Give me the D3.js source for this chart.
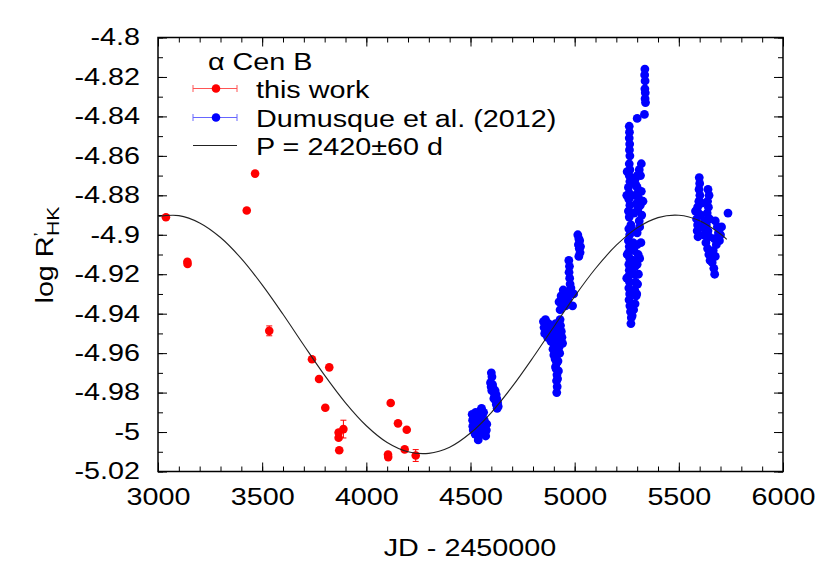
<!DOCTYPE html>
<html><head><meta charset="utf-8">
<script src="https://cdn.jsdelivr.net/npm/d3@7"></script>
<style>
body{margin:0;background:#fff}
svg{display:block}
text{font-family:"Liberation Sans",Arial,Helvetica,sans-serif;fill:#000}
</style>
</head><body>
<svg id="chart" width="830" height="567"></svg>
<script>
// ---------- data ----------
const xTicks = [3000,3500,4000,4500,5000,5500,6000];
const yTicks = [-4.8,-4.82,-4.84,-4.86,-4.88,-4.9,-4.92,-4.94,-4.96,-4.98,-5,-5.02];
const yTickLabels = ["-4.8","-4.82","-4.84","-4.86","-4.88","-4.9","-4.92","-4.94","-4.96","-4.98","-5","-5.02"];
const seriesNames = ["this work","Dumusque et al. (2012)","P = 2420\u00B160 d"];
const starName = "\u03B1 Cen B";

// this work: [JD-2450000, logR'HK, error]
const redPts = [
 [3038,-4.8911,0.001],[3141,-4.9137,0.001],[3142,-4.9148,0.001],[3426,-4.8877,0.001],
 [3466,-4.8690,0.001],[3534,-4.9487,0.0025],[3739,-4.9631,0.001],[3773,-4.9731,0.001],
 [3803,-4.9877,0.001],[3822,-4.9672,0.001],[3867,-5.0002,0.001],[3867,-5.0029,0.001],
 [3870,-5.0092,0.001],[3890,-4.9985,0.0045],[4104,-5.0114,0.001],[4105,-5.0127,0.001],
 [4117,-4.9853,0.001],[4152,-4.9956,0.001],[4184,-5.0088,0.001],[4194,-4.9988,0.001],
 [4237,-5.0119,0.003]
];

// Dumusque et al. (2012): [JD-2450000, logR'HK]
const bluePts = [
 [4508,-4.991],[4510,-4.994],[4511,-4.997],[4513,-4.999],[4515,-4.992],[4517,-4.995],[4520,-4.998],[4522,-5.001],
 [4525,-4.990],[4527,-4.993],[4530,-4.996],[4532,-4.999],[4535,-5.002],[4537,-5.004],[4540,-4.994],[4542,-4.997],
 [4545,-5.000],[4548,-4.991],[4550,-4.989],[4553,-4.988],[4556,-4.992],[4558,-4.995],[4561,-4.998],[4563,-4.990],
 [4566,-4.994],[4568,-4.997],[4571,-5.000],[4573,-5.002],[4576,-4.999],[4578,-4.996],
 [4600,-4.970],[4603,-4.972],[4596,-4.975],[4599,-4.977],[4602,-4.979],[4606,-4.976],[4610,-4.978],[4613,-4.980],
 [4616,-4.982],[4620,-4.984],[4618,-4.979],[4623,-4.981],[4626,-4.983],[4630,-4.985],[4633,-4.987],[4628,-4.988],
 [4612,-4.983],[4624,-4.986],
 [4912,-4.962],[4914,-4.965],[4911,-4.968],[4915,-4.971],[4913,-4.974],[4916,-4.977],[4914,-4.980],[4920,-4.964],
 [4922,-4.969],[4918,-4.973],[4906,-4.963],[4908,-4.967],
 [4850,-4.944],[4853,-4.947],[4856,-4.950],[4860,-4.943],[4863,-4.946],[4866,-4.949],[4870,-4.952],[4874,-4.945],
 [4878,-4.948],[4882,-4.951],[4886,-4.954],[4890,-4.947],[4894,-4.950],[4898,-4.953],[4902,-4.956],[4905,-4.959],
 [4909,-4.945],[4913,-4.948],[4917,-4.951],[4921,-4.954],[4925,-4.957],[4928,-4.960],[4932,-4.946],[4936,-4.949],
 [4939,-4.952],[4942,-4.955],[4930,-4.943],[4896,-4.958],[4900,-4.961],
 [4925,-4.934],[4930,-4.938],[4935,-4.931],[4940,-4.935],[4945,-4.928],[4950,-4.932],[4956,-4.936],[4962,-4.929],
 [4968,-4.933],[4975,-4.930],[4982,-4.927],[4990,-4.936],[4995,-4.930],
 [4972,-4.913],[4975,-4.916],[4973,-4.919],[4976,-4.922],[4978,-4.925],
 [5015,-4.900],[5020,-4.902],[5018,-4.905],[5024,-4.903],[5022,-4.907],[5026,-4.909],[5020,-4.911],[5028,-4.906],
 [5337,-4.816],[5336,-4.819],[5338,-4.822],[5337,-4.826],[5339,-4.828],[5338,-4.831],[5340,-4.833],
 [5335,-4.839],[5300,-4.841],
 [5262,-4.845],[5263,-4.848],[5262,-4.851],[5264,-4.854],[5263,-4.857],[5265,-4.860],
 [5262,-4.864],[5265,-4.867],[5262,-4.870],[5265,-4.873],[5320,-4.864],[5310,-4.867],[5300,-4.870],[5290,-4.872],
 [5316,-4.870],[5295,-4.875],[5252,-4.868],[5250,-4.880],
 [5258,-4.876],[5262,-4.879],[5260,-4.882],[5265,-4.885],[5258,-4.888],[5262,-4.891],[5300,-4.876],[5305,-4.879],
 [5310,-4.882],[5298,-4.884],[5303,-4.887],[5315,-4.885],[5320,-4.878],[5322,-4.890],[5310,-4.893],[5290,-4.880],
 [5285,-4.889],[5312,-4.896],[5270,-4.895],[5328,-4.883],
 [5260,-4.897],[5264,-4.900],[5300,-4.899],[5280,-4.898],
 [5258,-4.903],[5262,-4.906],[5258,-4.909],[5264,-4.912],[5260,-4.915],[5262,-4.918],[5259,-4.921],[5263,-4.924],
 [5260,-4.927],[5264,-4.930],[5261,-4.933],[5265,-4.936],[5268,-4.939],[5272,-4.942],[5270,-4.945],[5280,-4.904],
 [5285,-4.908],[5282,-4.913],[5290,-4.916],[5286,-4.920],[5292,-4.924],[5288,-4.928],[5295,-4.931],[5290,-4.935],
 [5300,-4.905],[5305,-4.910],[5300,-4.915],[5306,-4.920],[5302,-4.925],[5298,-4.930],[5283,-4.938],[5276,-4.941],
 [5252,-4.910],[5250,-4.922],[5312,-4.912],[5318,-4.904],
 [5598,-4.871],[5600,-4.874],[5597,-4.877],[5601,-4.880],[5596,-4.883],[5590,-4.886],[5594,-4.889],[5585,-4.892],
 [5590,-4.895],[5588,-4.898],[5592,-4.901],[5610,-4.884],[5605,-4.890],[5612,-4.896],[5580,-4.888],
 [5640,-4.877],[5645,-4.880],[5638,-4.883],[5642,-4.886],[5636,-4.889],[5648,-4.892],[5632,-4.895],[5640,-4.898],
 [5646,-4.901],[5630,-4.904],[5638,-4.907],[5644,-4.910],[5650,-4.913],[5625,-4.893],[5620,-4.900],
 [5675,-4.893],[5685,-4.896],[5690,-4.899],[5670,-4.902],[5680,-4.905],[5695,-4.903],[5665,-4.908],[5675,-4.911],
 [5660,-4.914],[5668,-4.917],[5672,-4.920],[5700,-4.900],[5688,-4.902],[5705,-4.896],
 [5736,-4.889]
];

// fitted sinusoid
const curveJD  = [3000,3100,3200,3300,3400,3500,3600,3700,3800,3900,4000,4100,4200,4300,4400,4500,4600,4700,4800,4900,5000,5100,5200,5300,5400,5500,5600,5700,5730];
const curveVal = [-4.8907,-4.8903,-4.8940,-4.9014,-4.9121,-4.9254,-4.9403,-4.9560,-4.9713,-4.9852,-4.9968,-5.0053,-5.0100,-5.0108,-5.0077,-5.0005,-4.9901,-4.9770,-4.9622,-4.9466,-4.9312,-4.9171,-4.9053,-4.8965,-4.8913,-4.8901,-4.8929,-4.8996,-4.9023];

// ---------- layout ----------
const L = 158, R = 783, T = 37.5, B = 471.5;
const FS = 23, SX = 1.25;
const RED = "#ff0000", BLUE = "#0000ff";

const svg = d3.select("#chart");
const x = d3.scaleLinear().domain([3000,6000]).range([L,R]);
const y = d3.scaleLinear().domain([-5.02,-4.8]).range([B,T]);

const fmtY = (d,i) => yTickLabels[i];

function styleAxis(g){
  g.select(".domain").remove();
  g.selectAll(".tick line").attr("stroke","#000").attr("stroke-width",1);
}

// minor ticks
const xMinor = d3.range(3000,6001,100);
const yMinor = d3.range(0,23).map(i => -5.02 + i*0.01);

svg.append("g").attr("transform",`translate(0,${B})`)
  .call(d3.axisBottom(x).tickValues(xMinor).tickSize(-5).tickFormat("")).call(styleAxis);
svg.append("g").attr("transform",`translate(0,${T})`)
  .call(d3.axisTop(x).tickValues(xMinor).tickSize(-5).tickFormat("")).call(styleAxis);
svg.append("g").attr("transform",`translate(${L},0)`)
  .call(d3.axisLeft(y).tickValues(yMinor).tickSize(-5).tickFormat("")).call(styleAxis);
svg.append("g").attr("transform",`translate(${R},0)`)
  .call(d3.axisRight(y).tickValues(yMinor).tickSize(-5).tickFormat("")).call(styleAxis);

// major ticks
const PAD_X = 17.5, PAD_Y = 18;
const gx = svg.append("g").attr("transform",`translate(0,${B})`)
  .call(d3.axisBottom(x).tickValues(xTicks).tickSize(-9).tickPadding(PAD_X).tickFormat(d3.format("d"))).call(styleAxis);
gx.selectAll(".tick text").attr("font-size",FS).attr("font-family",null)
  .attr("transform",`scale(${SX},1)`);
svg.append("g").attr("transform",`translate(0,${T})`)
  .call(d3.axisTop(x).tickValues(xTicks).tickSize(-9).tickFormat("")).call(styleAxis);
const gy = svg.append("g").attr("transform",`translate(${L},0)`)
  .call(d3.axisLeft(y).tickValues(yTicks).tickSize(-9).tickPadding(PAD_Y).tickFormat(fmtY)).call(styleAxis);
gy.selectAll(".tick text").attr("font-size",FS).attr("font-family",null)
  .attr("x",-PAD_Y/SX).attr("transform",`scale(${SX},1)`);
svg.append("g").attr("transform",`translate(${R},0)`)
  .call(d3.axisRight(y).tickValues(yTicks).tickSize(-9).tickFormat("")).call(styleAxis);

// frame
svg.append("rect").attr("x",L).attr("y",T).attr("width",R-L).attr("height",B-T)
  .attr("fill","none").attr("stroke","#000").attr("stroke-width",1.5);

// axis labels
function txt(px,py,str,anchor,rot){
  const t = svg.append("text")
    .attr("transform",`translate(${px},${py})${rot?` rotate(${rot})`:""} scale(${SX},1)`)
    .attr("text-anchor",anchor||"start").attr("font-size",FS);
  if(str!==null) t.text(str);
  return t;
}
txt(470,556,"JD - 2450000","middle");
const yl = txt(53,255,null,"middle",-90);
yl.append("tspan").text("log R");
yl.append("tspan").attr("font-size",15).attr("dy",-9).text("\u2019");
yl.append("tspan").attr("font-size",17).attr("dx",-3).attr("dy",15).text("HK");

// blue points
const gb = svg.append("g");
gb.selectAll("circle").data(bluePts).join("circle")
  .attr("cx",d=>x(d[0])).attr("cy",d=>y(d[1])).attr("r",4.4).attr("fill",BLUE);

// red points with error bars
const gr = svg.append("g");
gr.selectAll("path").data(redPts).join("path")
  .attr("d",d=>{const cx=x(d[0]), y1=y(d[1]-d[2]), y2=y(d[1]+d[2]);
    return `M${cx},${y1}V${y2}M${cx-3},${y1}H${cx+3}M${cx-3},${y2}H${cx+3}`;})
  .attr("stroke",RED).attr("stroke-width",1).attr("fill","none");
gr.selectAll("circle").data(redPts).join("circle")
  .attr("cx",d=>x(d[0])).attr("cy",d=>y(d[1])).attr("r",4.3).attr("fill",RED);

// fit curve
const line = d3.line().x((d,i)=>x(curveJD[i])).y(d=>y(d)).curve(d3.curveCatmullRom);
svg.append("path").attr("d",line(curveVal)).attr("fill","none")
  .attr("stroke","#222").attr("stroke-width",1.1);

// legend
txt(208,70,starName);
const lgY = [88.5,117.5,145.5], lgBase = [98,126.5,155];
const lx1 = 193, lx2 = 237, lxm = 216;
[[RED,"#ff5555"],[BLUE,"#6666ff"]].forEach((c,i)=>{
  const yy = lgY[i];
  svg.append("path").attr("d",`M${lx1},${yy}H${lx2}M${lx1},${yy-3.5}V${yy+3.5}M${lx2},${yy-3.5}V${yy+3.5}`)
    .attr("stroke",c[1]).attr("stroke-width",1).attr("fill","none");
  svg.append("circle").attr("cx",lxm).attr("cy",yy).attr("r",4.3).attr("fill",c[0]);
});
svg.append("path").attr("d",`M${lx1},${lgY[2]}H${lx2}`).attr("stroke","#222").attr("stroke-width",1.1);
seriesNames.forEach((s,i)=>txt(256,lgBase[i],s));
</script>
</body></html>
